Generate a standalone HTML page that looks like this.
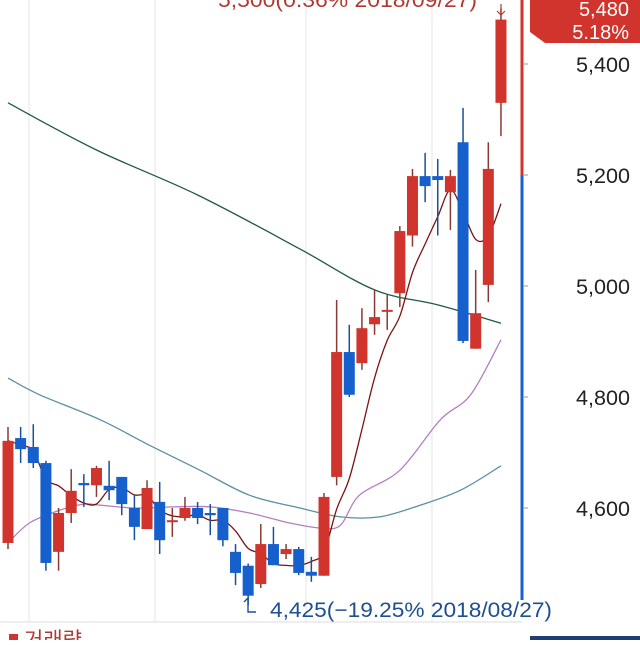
<!DOCTYPE html>
<html><head><meta charset="utf-8"><style>
body{margin:0;background:#fff;width:640px;height:640px;overflow:hidden}
svg text{font-family:"Liberation Sans","Noto Sans CJK KR",sans-serif}
</style></head><body>
<svg id="c" width="640" height="640" xmlns="http://www.w3.org/2000/svg"></svg>
<script>
const opens=[4537,4726,4710,4681,4521,4591,4645,4641,4640,4656,4600,4562,4611,4576,4582,4600,4591,4600,4521,4496,4463,4535,4517,4526,4485,4478,4656,4881,4861,4931,4955,4987,5091,5198,5198,5169,5259,4887,5002,5330];
const closes=[4721,4706,4681,4501,4591,4631,4641,4672,4632,4607,4566,4636,4542,4578,4600,4582,4587,4542,4483,4442,4535,4497,4526,4483,4478,4620,4881,4804,4924,4944,4957,5099,5198,5180,5191,5198,4901,4951,5211,5480];
const highs=[4746,4746,4751,4685,4600,4670,4661,4676,4685,4656,4623,4650,4647,4600,4620,4611,4607,4600,4535,4500,4571,4566,4535,4530,4512,4627,4975,4930,4960,4994,4984,5108,5211,5240,5229,5209,5321,5029,5259,5500];
const lows=[4526,4681,4672,4487,4487,4573,4602,4620,4614,4587,4542,4562,4517,4548,4577,4571,4551,4531,4461,4425,4456,4497,4508,4479,4467,4478,4641,4800,4849,4912,4921,4962,5071,5151,5091,5101,4897,4887,4971,5270];
const ma120Idx=[0,7,15,23,29,34,39];
const ma120=[5330,5245,5164,5068,4993,4966,4933];
const ma60Idx=[0,2.5,7.3,11.2,15.2,19.1,23.1,26.3,29.4,32.6,35.8,39];
const ma60=[4834,4804,4759,4713,4668,4623,4600,4584,4584,4605,4632,4676];
const ma20Idx=[0,1.7,4.1,6,7.3,10,13,16,19.1,22.3,24.7,26.3,27.8,31,34.2,36.6,39];
const ma20=[4537,4573,4596,4607,4605,4600,4602,4602,4591,4573,4564,4569,4623,4668,4759,4804,4903];
const yTicks=[5400,5200,5000,4800,4600];
const ns="http://www.w3.org/2000/svg";
const svg=document.getElementById('c');
const X=i=>8+i*12.64;
const Y=v=>175+(5200-v)*0.555;
function mk(t,a,p){const e=document.createElementNS(ns,t);for(const k in a)e.setAttribute(k,a[k]);(p||svg).appendChild(e);return e;}
[29,155,306,432].forEach(x=>{const g=mk('line',{x1:x,y1:0,x2:x,y2:622,stroke:'#e6e6e6','stroke-width':1});

});
function line(idx,vals,col,name){
const pts=idx.map((i,k)=>[X(i),Y(vals[k])]);
let d='M'+pts[0][0].toFixed(1)+','+pts[0][1].toFixed(1);
for(let k=1;k<pts.length;k++){const p0=pts[k-1],p1=pts[k],pm=pts[k-2]||p0,pn=pts[k+1]||p1;
const c1=[p0[0]+(p1[0]-pm[0])/6,p0[1]+(p1[1]-pm[1])/6],c2=[p1[0]-(pn[0]-p0[0])/6,p1[1]-(pn[1]-p0[1])/6];
d+=' C'+c1.map(v=>v.toFixed(1))+' '+c2.map(v=>v.toFixed(1))+' '+p1.map(v=>v.toFixed(1));}
const p=mk('path',{d:d,fill:'none',stroke:col,'stroke-width':1.3});

}
line(ma120Idx,ma120,'#1f5a45','ma120-line');
line(ma60Idx,ma60,'#5a8fa5','ma60-line');
line(ma20Idx,ma20,'#b27fc0','ma20-line');
const m5i=[],m5=[];
closes.forEach((c,i)=>{const s=closes.slice(Math.max(0,i-4),i+1);m5i.push(i);m5.push(s.reduce((a,b)=>a+b,0)/s.length);});
line(m5i,m5,'#7a1414','ma5-line');
opens.forEach((o,i)=>{const c=closes[i];const up=c>=o;const col=up?'#d0342c':'#1560cc';const x=X(i);
const g=mk('g',{});


mk('line',{x1:x,x2:x,y1:Y(highs[i]),y2:Y(lows[i]),stroke:up?'#8a3a34':'#1a4f99','stroke-width':1.5},g);
const t=Y(Math.max(o,c)),b=Y(Math.min(o,c));
mk('rect',{x:x-5.5,y:t,width:11,height:Math.max(2,b-t),fill:col},g);});
const ax1=mk('line',{x1:522,x2:522,y1:0,y2:175,stroke:'#d0342c','stroke-width':3});


const ax2=mk('line',{x1:522,x2:522,y1:175,y2:600,stroke:'#1560cc','stroke-width':3});


yTicks.forEach(v=>{const t=mk('text',{x:630,y:Y(v)+8,'text-anchor':'end','font-size':21,fill:'#222',textLength:54,lengthAdjust:'spacingAndGlyphs'});t.textContent=v.toLocaleString('en-US');


mk('line',{x1:524,x2:528,y1:Y(v),y2:Y(v),stroke:'#999'});});
const tag=mk('path',{d:'M530,0 H640 V43 H545 L530,32 Z',fill:'#d0342c'});


const t1=mk('text',{x:629,y:16,'text-anchor':'end','font-size':20,fill:'#fff'});t1.textContent='5,480';
const t2=mk('text',{x:629,y:39,'text-anchor':'end','font-size':20,fill:'#fff'});t2.textContent='5.18%';
const hi=mk('text',{x:218,y:7,'font-size':21,fill:'#b03a32',textLength:259,lengthAdjust:'spacingAndGlyphs'});hi.textContent='5,500(0.36% 2018/09/27)';


mk('path',{d:'M501,4 V15 M497,11 L501,15 L505,11',fill:'none',stroke:'#b03a32','stroke-width':1.2});
mk('path',{d:'M248,598 V612 H256 M244,602 L248,598',fill:'none',stroke:'#1e4f91','stroke-width':1.4});
const lo=mk('text',{x:270,y:617,'font-size':21,fill:'#1e4f91',textLength:282,lengthAdjust:'spacingAndGlyphs'});lo.textContent='4,425(−19.25% 2018/08/27)';


mk('line',{x1:0,x2:522,y1:622,y2:622,stroke:'#ddd'});
mk('rect',{x:9,y:634,width:9,height:9,fill:'#d0342c'});
const vl=mk('text',{x:24,y:647,'font-size':21,fill:'#b03a32'});vl.textContent='거래량';


mk('rect',{x:530,y:636,width:110,height:6,fill:'#1f3d73'});
</script>
</body></html>
